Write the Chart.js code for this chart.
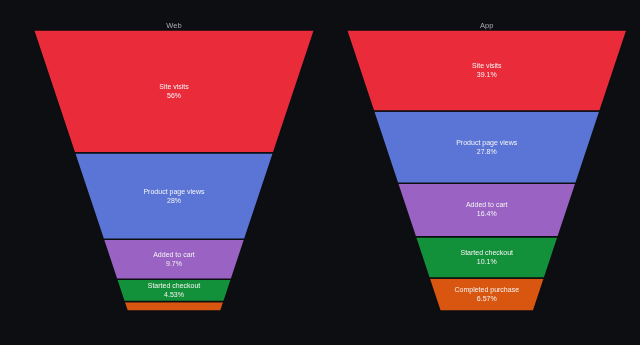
<!DOCTYPE html>
<html>
<head>
<meta charset="utf-8">
<script src="https://cdn.jsdelivr.net/npm/chart.js@4/dist/chart.umd.min.js"></script>
<style>
  html, body { margin: 0; padding: 0; background: #0d0e12; }
  #wrap { width: 640px; height: 345px; display: flex; }
  canvas { display: block; }
</style>
</head>
<body>
<div id="wrap">
  <canvas id="web" width="320" height="345"></canvas>
  <canvas id="app" width="320" height="345"></canvas>
</div>
<script>
// ---- data ----
const stages = ['Site visits', 'Product page views', 'Added to cart', 'Started checkout', 'Completed purchase'];
const webValues = [56, 28, 9.7, 4.53, 1.77];
const appValues = [39.1, 27.8, 16.4, 10.1, 6.57];
const panelTitles = ['Web', 'App'];
const stageColors = ['#e92b3a', '#5b75d7', '#9a62c3', '#13913a', '#d8560f'];

const BASE_RATIO = 1 / 3;   // bottom width / top width
const BG = '#0d0e12';

// t = height fraction from the bottom at which `areaBelow` (fraction) of funnel area lies beneath
function tForArea(areaBelow, r) {
  const total = (1 + r) / 2;
  const A = areaBelow * total;
  const a = (1 - r) / 2;
  return (-r + Math.sqrt(r * r + 4 * a * A)) / (2 * a);
}
function halfWidth(t, r) { return r + (1 - r) * t; }

function buildSegments(values, r) {
  const total = values.reduce((s, v) => s + v, 0);
  let above = 0;
  return values.map((v, i) => {
    const topT = tForArea(1 - above / total, r);
    above += v;
    const botT = i === values.length - 1 ? 0 : tForArea(1 - above / total, r);
    return { topT, botT, frac: v / total, name: stages[i] };
  });
}

function fmtPct(f) {
  const p = f * 100;
  let s = p.toPrecision(3);
  if (s.indexOf('.') >= 0) s = s.replace(/0+$/, '').replace(/\.$/, '');
  return s + '%';
}

const labelPlugin = {
  id: 'funnelLabels',
  afterDatasetsDraw(chart) {
    const segs = chart.config.options.plugins.funnelLabels.segments;
    const ctx = chart.ctx;
    const xs = chart.scales.x, ys = chart.scales.y;
    ctx.save();
    ctx.font = '7px "Liberation Sans", Arial, sans-serif';
    ctx.fillStyle = '#f4f4f4';
    ctx.textAlign = 'center';
    ctx.textBaseline = 'middle';
    segs.forEach(s => {
      const yTop = ys.getPixelForValue(s.topT);
      const yBot = ys.getPixelForValue(s.botT);
      if (yBot - yTop < 18) return;
      const cy = (yTop + yBot) / 2;
      const cx = xs.getPixelForValue(0);
      ctx.fillText(s.name, cx, cy - 4.5);
      ctx.fillText(fmtPct(s.frac), cx, cy + 4.5);
    });
    ctx.restore();
  }
};

function makeFunnel(canvasId, title, values, padLeft, padRight) {
  const r = BASE_RATIO;
  const segs = buildSegments(values, r);
  const datasets = segs.map((s, i) => {
    const wt = halfWidth(s.topT, r), wb = halfWidth(s.botT, r);
    return {
      label: s.name,
      data: [
        { x: -wt, y: s.topT }, { x: wt, y: s.topT },
        { x: wb, y: s.botT }, { x: -wb, y: s.botT },
        { x: -wt, y: s.topT }
      ],
      showLine: true,
      fill: 'shape',
      backgroundColor: stageColors[i],
      borderColor: BG,
      borderWidth: 1.5,
      pointRadius: 0,
      tension: 0,
      clip: false
    };
  });
  return new Chart(document.getElementById(canvasId), {
    type: 'scatter',
    data: { datasets },
    options: {
      responsive: false,
      animation: false,
      devicePixelRatio: 1,
      layout: { padding: { top: 14.5, bottom: 34, left: padLeft, right: padRight } },
      scales: {
        x: { display: false, min: -1, max: 1 },
        y: { display: false, min: 0, max: 1 }
      },
      plugins: {
        legend: { display: false },
        tooltip: { enabled: false },
        title: {
          display: true, text: title, color: '#a9abb0',
          font: { size: 7.5, family: '"Liberation Sans", Arial, sans-serif', weight: 'normal' },
          padding: { top: 6.5, bottom: 0 }
        },
        funnelLabels: { segments: segs }
      }
    },
    plugins: [labelPlugin]
  });
}

makeFunnel('web', panelTitles[0], webValues, 33.5, 5.5);
makeFunnel('app', panelTitles[1], appValues, 26.5, 13);
</script>
</body>
</html>
